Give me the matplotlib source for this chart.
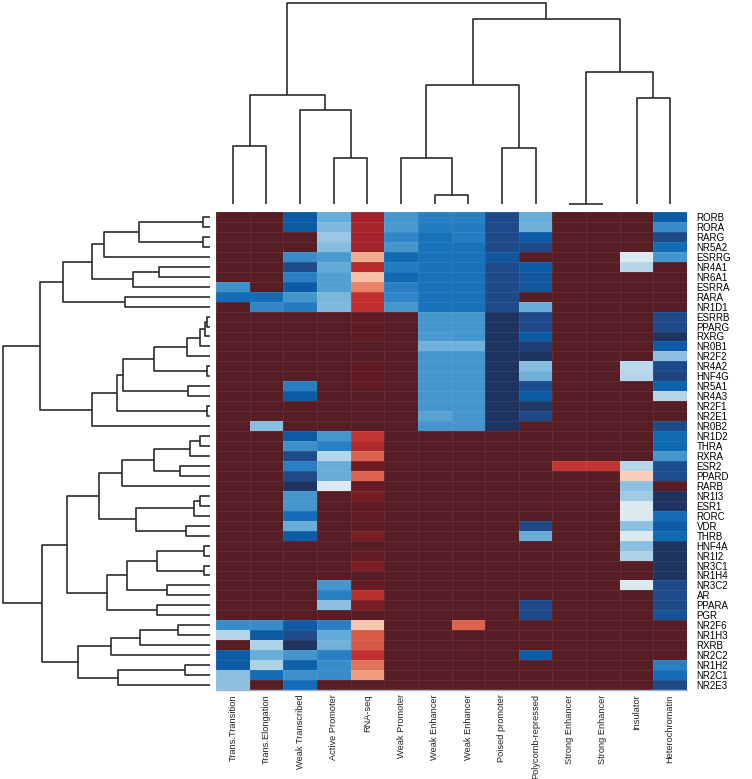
import matplotlib
matplotlib.use("Agg")
import matplotlib.pyplot as plt
import numpy as np
from matplotlib.colors import LinearSegmentedColormap

W, H = 752, 779

#-------------------------------------------------
# data
#-------------------------------------------------
cols = ["Trans.Transition", "Trans.Elongation", "Weak Transcribed", "Active Promoter",
        "RNA-seq", "Weak Promoter", "Weak Enhancer", "Weak Enhancer", "Poised promoter",
        "Polycomb-repressed", "Strong Enhancer", "Strong Enhancer", "Insulator",
        "Heterochromatin"]

rows = ["RORB", "RORA", "RARG", "NR5A2", "ESRRG", "NR4A1", "NR6A1", "ESRRA", "RARA",
        "NR1D1", "ESRRB", "PPARG", "RXRG", "NR0B1", "NR2F2", "NR4A2", "HNF4G", "NR5A1",
        "NR4A3", "NR2F1", "NR2E1", "NR0B2", "NR1D2", "THRA", "RXRA", "ESR2", "PPARD",
        "RARB", "NR1I3", "ESR1", "RORC", "VDR", "THRB", "HNF4A", "NR1I2", "NR3C1",
        "NR1H4", "NR3C2", "AR", "PPARA", "PGR", "NR2F6", "NR1H3", "RXRB", "NR2C2",
        "NR1H2", "NR2C1", "NR2E3"]

# labels drawn in orange
marked = ["RORB", "RORA", "RARG", "NR5A2", "ESRRG", "NR4A1", "NR6A1", "ESRRA", "RARA",
          "NR1D1", "ESRRB", "PPARG", "RXRG", "NR0B1", "NR2F2", "NR4A2", "HNF4G", "NR5A1",
          "NR4A3", "NR2F1", "NR2E1", "NR0B2", "THRA", "RARB", "THRB"]

# cell level, 0 = dark red ... 1 = dark blue
vals = np.array([
    [0, 0, .92, .75, .20, .80, .84, .84, .96, .75, 0, 0, 0, .92],
    [0, 0, .92, .72, .22, .79, .85, .85, .96, .74, 0, 0, 0, .82],
    [0, 0, 0, .68, .21, .83, .87, .85, .96, .92, 0, 0, 0, .96],
    [0, 0, 0, .71, .21, .80, .87, .87, .96, .96, 0, 0, 0, .88],
    [0, 0, .82, .79, .47, .89, .87, .87, .93, 0, 0, 0, .58, .80],
    [0, 0, .96, .76, .26, .85, .87, .87, .96, .92, 0, 0, .64, 0],
    [0, 0, .84, .78, .50, .89, .87, .87, .96, .93, 0, 0, 0, 0],
    [.81, 0, .92, .78, .42, .84, .87, .87, .96, .93, 0, 0, 0, 0],
    [.88, .88, .80, .73, .28, .83, .87, .87, .96, 0, 0, 0, 0, 0],
    [0, .83, .85, .72, .28, .80, .87, .87, .96, .75, 0, 0, 0, 0],
    [0, 0, 0, 0, .03, 0, .80, .80, 1, .96, 0, 0, 0, .96],
    [0, 0, 0, 0, .05, 0, .80, .80, 1, .96, 0, 0, 0, .96],
    [0, 0, 0, 0, .04, 0, .79, .80, 1, .92, 0, 0, 0, 1],
    [0, 0, 0, 0, 0, 0, .74, .74, 1, .98, 0, 0, 0, .92],
    [0, 0, 0, 0, 0, 0, .80, .80, 1, 1, 0, 0, 0, .70],
    [0, 0, 0, 0, .05, 0, .80, .80, 1, .71, 0, 0, .63, .96],
    [0, 0, 0, 0, .05, 0, .80, .80, 1, .74, 0, 0, .64, .97],
    [0, 0, .84, 0, .05, 0, .80, .80, 1, .95, 0, 0, 0, .91],
    [0, 0, .92, 0, 0, 0, .80, .80, 1, .92, 0, 0, 0, .64],
    [0, 0, 0, 0, 0, 0, .80, .80, 1, .99, 0, 0, 0, 0],
    [0, 0, 0, 0, 0, 0, .77, .80, 1, .96, 0, 0, 0, 0],
    [0, .71, 0, 0, 0, 0, .80, .80, 1, 0, 0, 0, 0, .96],
    [0, 0, .92, .80, .29, 0, 0, 0, 0, 0, 0, 0, 0, .89],
    [0, 0, .81, .84, .24, 0, 0, 0, 0, 0, 0, 0, 0, .89],
    [0, 0, .96, .64, .38, 0, 0, 0, 0, 0, 0, 0, 0, .80],
    [0, 0, .84, .75, .09, 0, 0, 0, 0, 0, .29, .29, .64, .95],
    [0, 0, .96, .75, .38, 0, 0, 0, 0, 0, 0, 0, .52, .95],
    [0, 0, 1, .58, .06, 0, 0, 0, 0, 0, 0, 0, .70, 0],
    [0, 0, .80, 0, .12, 0, 0, 0, 0, 0, 0, 0, .67, 1],
    [0, 0, .80, 0, .03, 0, 0, 0, 0, 0, 0, 0, .58, 1],
    [0, 0, .88, 0, .05, 0, 0, 0, 0, 0, 0, 0, .58, .88],
    [0, 0, .75, 0, .04, 0, 0, 0, 0, .96, 0, 0, .70, .92],
    [0, 0, .92, 0, .12, 0, 0, 0, 0, .75, 0, 0, .58, .89],
    [0, 0, 0, 0, 0, 0, 0, 0, 0, 0, 0, 0, .70, 1],
    [0, 0, 0, 0, .06, 0, 0, 0, 0, 0, 0, 0, .65, 1],
    [0, 0, 0, 0, .13, 0, 0, 0, 0, 0, 0, 0, 0, 1],
    [0, 0, 0, 0, 0, 0, 0, 0, 0, 0, 0, 0, 0, 1],
    [0, 0, 0, .80, .07, 0, 0, 0, 0, 0, 0, 0, .58, .96],
    [0, 0, 0, .84, .27, 0, 0, 0, 0, 0, 0, 0, 0, .96],
    [0, 0, 0, .70, .12, 0, 0, 0, 0, .96, 0, 0, 0, .96],
    [0, 0, 0, 0, 0, 0, 0, 0, 0, .96, 0, 0, 0, .94],
    [.82, .82, .92, .84, .51, 0, 0, .38, 0, 0, 0, 0, 0, 0],
    [.64, .92, .96, .76, .36, 0, 0, 0, 0, 0, 0, 0, 0, 0],
    [0, .65, 1, .74, .36, 0, 0, 0, 0, 0, 0, 0, 0, 0],
    [.92, .75, .80, .84, .28, 0, 0, 0, 0, .92, 0, 0, 0, 0],
    [.92, .65, .91, .82, .40, 0, 0, 0, 0, 0, 0, 0, 0, .84],
    [.70, .88, .81, .82, .45, 0, 0, 0, 0, 0, 0, 0, 0, .88],
    [.70, 0, .88, 0, 0, 0, 0, 0, 0, 0, 0, 0, 0, .96],
])

# dendrograms: (left, right, merge height), leaves are column / row indices
col_tree = (((0, 1, 58), (2, (3, 4, 46), 94), 109),
            (((5, (6, 7, 9), 46), (8, 9, 56), 119),
             ((10, 11, 0.3), (12, 13, 106), 132), 185), 200.7)

row_upper = (((((((0, 1, 7), (2, 3, 7), 71), 4, 106), ((5, 6, 51), 7, 77), 118),
               (8, 9, 85), 147),
              ((((((((10, 11, 3), 12, 5), 13, 10), 14, 23), (15, 16, 3), 56),
                 (17, 18, 22), 87), (19, 20, 3), 93), 21, 118), 170))
row_lower = ((((((((22, 23, 10), 24, 20), (25, 26, 30), 56), 27, 88),
                ((((28, 29, 10), 30, 16), (31, 32, 24), 74)), 111),
               (((((33, 34, 6), (35, 36, 6), 53), (37, 38, 43), 83), (39, 40, 53), 103)), 143),
              ((((41, 42, 32), 43, 70), 44, 99), ((45, 46, 25), 47, 92), 132), 168))
row_tree = (row_upper, row_lower, 206.7)

#-------------------------------------------------
# colours
#-------------------------------------------------
cmap = LinearSegmentedColormap.from_list("chrom", [
    (0.00, "#561e24"), (0.05, "#621b23"), (0.12, "#7a1d24"), (0.20, "#a0222a"),
    (0.28, "#c0302e"), (0.38, "#dc644e"), (0.46, "#f2a184"), (0.52, "#f9cdb6"),
    (0.58, "#dde9f1"), (0.64, "#b4d6e9"), (0.70, "#8ec1e0"), (0.75, "#6aaed8"),
    (0.80, "#4596cd"), (0.84, "#2a82c4"), (0.88, "#136db6"), (0.92, "#0b5ca6"),
    (0.96, "#1f4a8a"), (1.00, "#1e3360")])

font = "Liberation Sans"
lab_orange = "#b5562f"
line_col = "#2b2b2b"


def draw_tree(ax, node, top):
    if not isinstance(node, tuple):
        return node + 0.5, 0.0
    a, b, h = node
    pa, ha = draw_tree(ax, a, top)
    pb, hb = draw_tree(ax, b, top)
    pos = [pa, pa, pb, pb]
    hgt = [ha, h, h, hb]
    if top:
        ax.plot(pos, hgt, color=line_col, lw=1.2, solid_capstyle="butt")
    else:
        ax.plot(hgt, pos, color=line_col, lw=1.2, solid_capstyle="butt")
    return (pa + pb) / 2.0, h


#-------------------------------------------------
# plot
#-------------------------------------------------
fig = plt.figure(figsize=(W / 100, H / 100), dpi=100)

ax_hm = fig.add_axes([216 / W, 1 - 690 / H, 471 / W, 478 / H])
ax_hm.pcolormesh(vals, cmap=cmap, vmin=0, vmax=1,
                 edgecolors=(1, 1, 1, 0.07), linewidth=0.5)
ax_hm.set_xlim(0, len(cols))
ax_hm.set_ylim(len(rows), 0)
ax_hm.set_xticks(np.arange(len(cols)) + 0.5)
ax_hm.set_xticklabels(cols, rotation=90, fontsize=6.7, family=font, color="#222222")
ax_hm.set_yticks(np.arange(len(rows)) + 0.5)
ax_hm.set_yticklabels(rows, fontsize=7, family=font)
for t, name in zip(ax_hm.get_yticklabels(), rows):
    t.set_color(lab_orange if name in marked else "#222222")
ax_hm.yaxis.tick_right()
ax_hm.tick_params(axis="x", length=0, pad=3)
ax_hm.tick_params(axis="y", length=0, pad=7)
for s in ["top", "left", "right"]:
    ax_hm.spines[s].set_visible(False)
ax_hm.spines["bottom"].set_color("#9fb3cf")
ax_hm.spines["bottom"].set_linewidth(1.0)

# column dendrogram
ax_c = fig.add_axes([216 / W, 1 - 206 / H, 471 / W, 206 / H])
draw_tree(ax_c, col_tree, True)
ax_c.set_xlim(0, len(cols))
ax_c.set_ylim(-2, 204)
ax_c.axis("off")

# row dendrogram
ax_r = fig.add_axes([0, 1 - 690 / H, 212 / W, 478 / H])
draw_tree(ax_r, row_tree, False)
ax_r.set_ylim(len(rows), 0)
ax_r.set_xlim(210, -2)
ax_r.axis("off")

fig.savefig("out.png", dpi=100)
